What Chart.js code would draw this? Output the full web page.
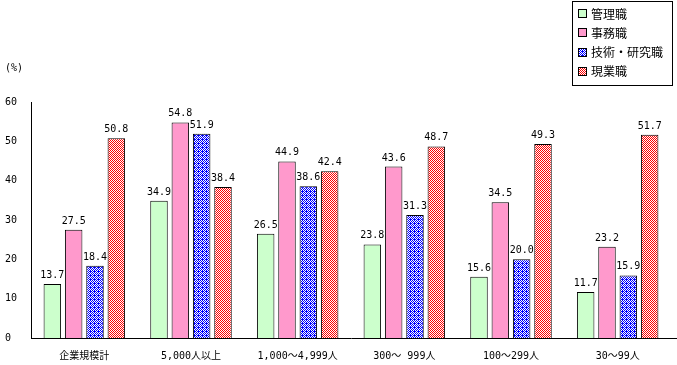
<!DOCTYPE html>
<html>
<head>
<meta charset="utf-8">
<script src="https://cdn.jsdelivr.net/npm/chart.js@4"></script>
<style>
  body { margin: 0; background: #fff; }
  #wrap { width: 677px; height: 365px; }
</style>
</head>
<body>
<div id="wrap"><canvas id="myChart"></canvas></div>
<script>
const categories = ['企業規模計', '5,000人以上', '1,000～4,999人', '300～ 999人', '100～299人', '30～99人'];
const seriesNames = ['管理職', '事務職', '技術・研究職', '現業職'];
const kanri = [13.7, 34.9, 26.5, 23.8, 15.6, 11.7];
const jimu = [27.5, 54.8, 44.9, 43.6, 34.5, 23.2];
const gijutsu = [18.4, 51.9, 38.6, 31.3, 20.0, 15.9];
const genba = [50.8, 38.4, 42.4, 48.7, 49.3, 51.7];
const yTicks = [0, 10, 20, 30, 40, 50, 60];

// small tile patterns like the original hatch fills
function makePattern(rows, fg) {
	const c = document.createElement('canvas');
	c.width = rows[0].length;
	c.height = rows.length;
	const g = c.getContext('2d');
	g.fillStyle = '#fff';
	g.fillRect(0, 0, c.width, c.height);
	g.fillStyle = fg;
	for (let y = 0; y < rows.length; y++) {
		for (let x = 0; x < rows[y].length; x++) {
			if (rows[y][x] == '#') g.fillRect(x, y, 1, 1);
		}
	}
	return g.createPattern(c, 'repeat');
}
const bluePat = makePattern(['#.#.', '.#.#', '#.#.', '.###'], '#0000ff');
const redPat = makePattern(['#.', '.#'], '#ff0000');

const monoFont = '"DejaVu Sans Mono", "Noto Sans CJK JP", monospace';

const valueLabels = {
	id: 'valueLabels',
	afterDatasetsDraw(chart) {
		const ctx = chart.ctx;
		ctx.save();
		ctx.fillStyle = '#000';
		ctx.font = '10px ' + monoFont;
		ctx.textAlign = 'center';
		ctx.textBaseline = 'alphabetic';
		chart.data.datasets.forEach((ds, i) => {
			chart.getDatasetMeta(i).data.forEach((bar, j) => {
				ctx.fillText(ds.data[j].toFixed(1), bar.x, bar.y - 6);
			});
		});
		ctx.restore();
	}
};

const legendBox = {
	id: 'legendBox',
	afterDraw(chart) {
		const ctx = chart.ctx;
		ctx.save();
		ctx.strokeStyle = '#000';
		ctx.lineWidth = 1;
		ctx.strokeRect(572.5, 1.5, 100, 84);
		ctx.font = '12px "Noto Sans CJK JP"';
		ctx.textBaseline = 'middle';
		chart.data.datasets.forEach((ds, i) => {
			const y = 14 + i * 19.3;
			ctx.fillStyle = ds.backgroundColor;
			ctx.fillRect(578, Math.round(y) - 5, 9, 9);
			ctx.strokeRect(578.5, Math.round(y) - 4.5, 8, 8);
			ctx.fillStyle = '#000';
			ctx.fillText(ds.label, 591, y);
		});
		ctx.font = '10px ' + monoFont;
		ctx.fillText('(%)', 5, 68);
		// axis line runs on to the right edge
		const a = chart.chartArea;
		ctx.beginPath();
		ctx.moveTo(a.right, Math.round(a.bottom) + 0.5);
		ctx.lineTo(chart.width, Math.round(a.bottom) + 0.5);
		ctx.stroke();
		ctx.restore();
	}
};

const ctx = document.getElementById('myChart');

const myChart = new Chart(ctx, {
	type: 'bar',
	data: {
		labels: categories,
		datasets: [
			{ label: seriesNames[0], data: kanri, backgroundColor: '#ccffcc' },
			{ label: seriesNames[1], data: jimu, backgroundColor: '#ff99cc' },
			{ label: seriesNames[2], data: gijutsu, backgroundColor: bluePat },
			{ label: seriesNames[3], data: genba, backgroundColor: redPat }
		]
	},
	options: {
		responsive: true,
		maintainAspectRatio: false,
		animation: false,
		devicePixelRatio: 1,
		datasets: {
			bar: {
				borderColor: '#000',
				borderWidth: 1,
				borderSkipped: 'bottom',
				categoryPercentage: 0.8,
				barPercentage: 0.82
			}
		},
		layout: {
			padding: { top: 102, left: 5, right: 6, bottom: 0 }
		},
		scales: {
			x: {
				grid: { display: false },
				border: { display: true, color: '#000', width: 1 },
				ticks: {
					color: '#000',
					font: { family: monoFont, size: 10 },
					padding: 4,
					maxRotation: 0,
					autoSkip: false
				},
				afterFit(scale) { scale.height = 27; }
			},
			y: {
				min: 0,
				max: 60,
				afterBuildTicks(scale) { scale.ticks = yTicks.map(v => ({ value: v })); },
				grid: { display: false },
				border: { display: true, color: '#000', width: 1 },
				ticks: {
					color: '#000',
					font: { family: monoFont, size: 10 },
					crossAlign: 'far',
					padding: 0
				},
				afterFit(scale) { scale.width = 26; }
			}
		},
		plugins: {
			legend: { display: false },
			tooltip: { enabled: false }
		}
	},
	plugins: [valueLabels, legendBox]
});
</script>
</body>
</html>
